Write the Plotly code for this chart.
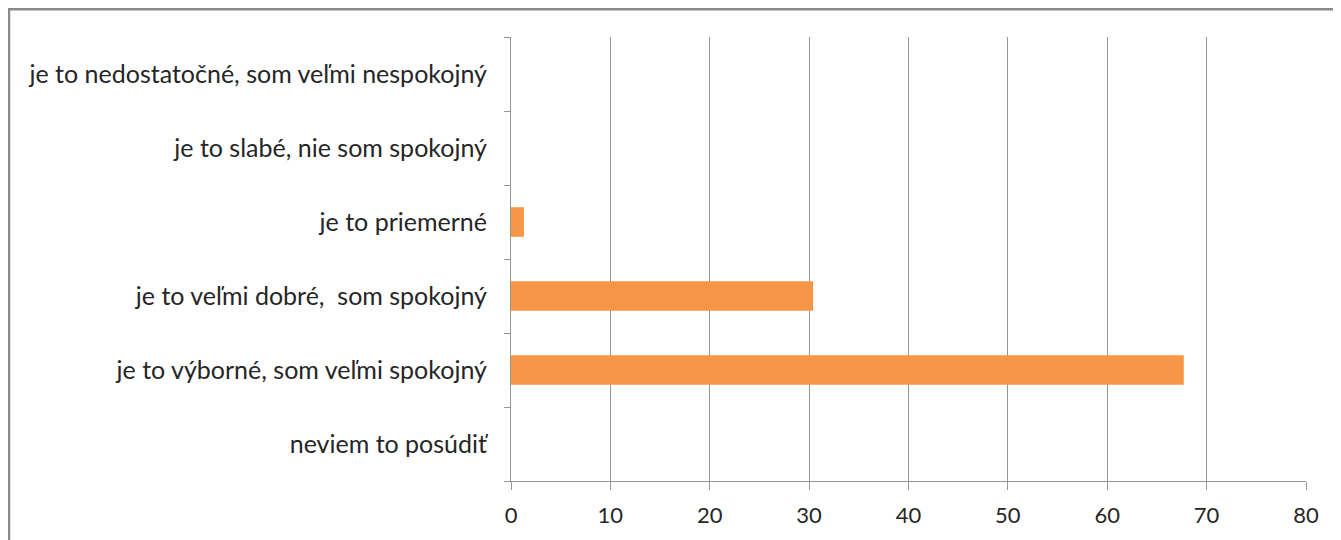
import plotly.graph_objects as go

categories = [
    "neviem to posúdiť",
    "je to výborné, som veľmi spokojný",
    "je to veľmi dobré,\u00a0 som spokojný",
    "je to priemerné",
    "je to slabé, nie som spokojný",
    "je to nedostatočné, som veľmi nespokojný",
]
values = [0, 67.7, 30.4, 1.3, 0, 0]
x_ticks = [0, 10, 20, 30, 40, 50, 60, 70, 80]

# the page body has an 8px margin, so the figure is drawn 8px in from the corner
OFF = 8
W, H = 1341 - OFF, 540 - OFF
L, R, T, B = 511 - OFF, 35, 37 - OFF, 57
pw, ph = W - L - R, H - T - B

fig = go.Figure(
    go.Bar(
        x=values,
        y=categories,
        orientation="h",
        marker=dict(color="#F79646", line=dict(width=0)),
    )
)

axis_gray = "#959595"
family = "Lato, 'Open Sans', sans-serif"

fig.update_layout(
    width=W,
    height=H,
    margin=dict(l=L, r=R, t=T, b=B),
    paper_bgcolor="white",
    plot_bgcolor="white",
    bargap=0.6,
    showlegend=False,
    font=dict(family=family, size=22, color="#262626"),
    xaxis=dict(
        range=[0, 80],
        tickvals=x_ticks,
        tickfont=dict(family=family, size=22, color="#262626"),
        showgrid=True,
        gridcolor=axis_gray,
        gridwidth=1,
        showline=True,
        linecolor=axis_gray,
        linewidth=1,
        ticks="outside",
        ticklen=8,
        tickcolor=axis_gray,
        zeroline=False,
        ticklabelstandoff=7,
        fixedrange=True,
    ),
    yaxis=dict(
        type="category",
        categoryorder="array",
        categoryarray=categories,
        tickfont=dict(family=family, size=25, color="#262626"),
        showgrid=False,
        showline=True,
        linecolor=axis_gray,
        linewidth=1,
        ticks="outside",
        tickson="boundaries",
        ticklen=6,
        tickcolor=axis_gray,
        ticklabelstandoff=18,
        fixedrange=True,
    ),
    shapes=[
        dict(
            type="rect",
            xref="paper",
            yref="paper",
            x0=(9 - OFF - L) / pw,
            x1=(W + 20 - L) / pw,
            y0=(H - B - (H + 20)) / ph,
            y1=(H - B - (9 - OFF)) / ph,
            line=dict(color="#8a8a8a", width=2.5),
            fillcolor="rgba(0,0,0,0)",
            layer="below",
        )
    ],
)

fig.write_html("out.html")
